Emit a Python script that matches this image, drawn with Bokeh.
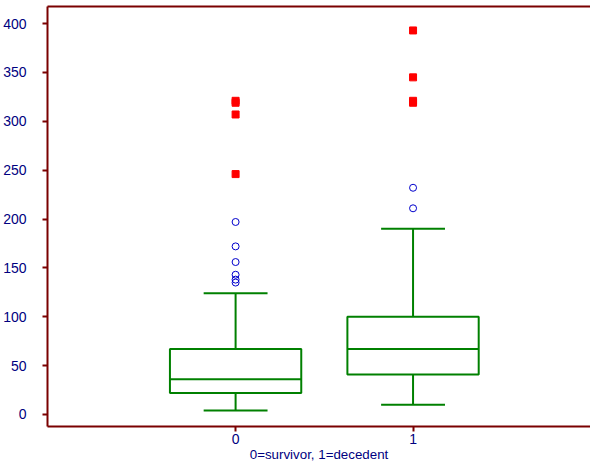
from bokeh.plotting import figure
from bokeh.models import LinearAxis, FixedTicker, Range1d
from bokeh.embed import file_html
from bokeh.resources import INLINE

groups = [0, 1]
q1 = [22, 41]
median = [36, 67]
q3 = [67, 100]
whisk_low = [4, 10]
whisk_high = [124, 190]
out_x = [0, 0, 0, 0, 0, 0, 1, 1]
out_y = [197, 172, 156, 143, 138, 135, 232, 211]
far_x = [0, 0, 0, 0, 1, 1, 1, 1]
far_y = [321, 319, 307, 246, 393, 345, 321, 319]

maroon = "#7a0000"
navy = "#000080"
green = "#008000"

p = figure(width=590, height=464, output_backend="svg", toolbar_location=None,
           x_range=Range1d(-1.06, 2.0), y_range=Range1d(-12.3, 417.5),
           min_border_top=0, min_border_right=0, min_border_left=0, min_border_bottom=0)
p.outline_line_color = None
p.grid.visible = False

for ax in [p.yaxis[0], p.xaxis[0]]:
    ax.axis_line_color = maroon
    ax.axis_line_width = 2
    ax.major_tick_line_color = maroon
    ax.major_tick_line_width = 2
    ax.major_tick_in = 0
    ax.major_tick_out = 5
    ax.minor_tick_line_color = None
    ax.major_label_text_color = navy
    ax.major_label_text_font = "Liberation Sans"
    ax.major_label_text_font_size = "10.5pt"
    ax.major_label_standoff = 2
p.yaxis.major_label_standoff = 16
p.yaxis.ticker = FixedTicker(ticks=[0, 50, 100, 150, 200, 250, 300, 350, 400])
p.xaxis.ticker = FixedTicker(ticks=groups)
p.xaxis.axis_label = "0=survivor, 1=decedent"
p.xaxis.axis_label_text_color = navy
p.xaxis.axis_label_text_font = "Liberation Sans"
p.xaxis.axis_label_text_font_style = "normal"
p.xaxis.axis_label_text_font_size = "10pt"
p.xaxis.axis_label_standoff = 0

top = LinearAxis(axis_line_color=maroon, axis_line_width=2, major_tick_line_color=None,
                 minor_tick_line_color=None, major_label_text_font_size="0pt")
p.add_layout(top, "above")

p.segment(x0=groups, y0=whisk_low, x1=groups, y1=q1, line_color=green, line_width=2)
p.segment(x0=groups, y0=q3, x1=groups, y1=whisk_high, line_color=green, line_width=2)
p.quad(left=[g - 0.37 for g in groups], right=[g + 0.37 for g in groups], bottom=q1, top=q3,
       fill_color=None, line_color=green, line_width=2)
p.segment(x0=[g - 0.37 for g in groups], y0=median, x1=[g + 0.37 for g in groups], y1=median,
          line_color=green, line_width=2)
p.segment(x0=[g - 0.18 for g in groups], y0=whisk_low, x1=[g + 0.18 for g in groups], y1=whisk_low,
          line_color=green, line_width=2)
p.segment(x0=[g - 0.18 for g in groups], y0=whisk_high, x1=[g + 0.18 for g in groups], y1=whisk_high,
          line_color=green, line_width=2)
p.scatter(out_x, out_y, marker="circle", size=7, fill_color=None, line_color="#0000cc")
p.scatter(far_x, far_y, marker="square", size=7, fill_color="red", line_color="red")

open("out.html", "w").write(file_html(p, INLINE))
